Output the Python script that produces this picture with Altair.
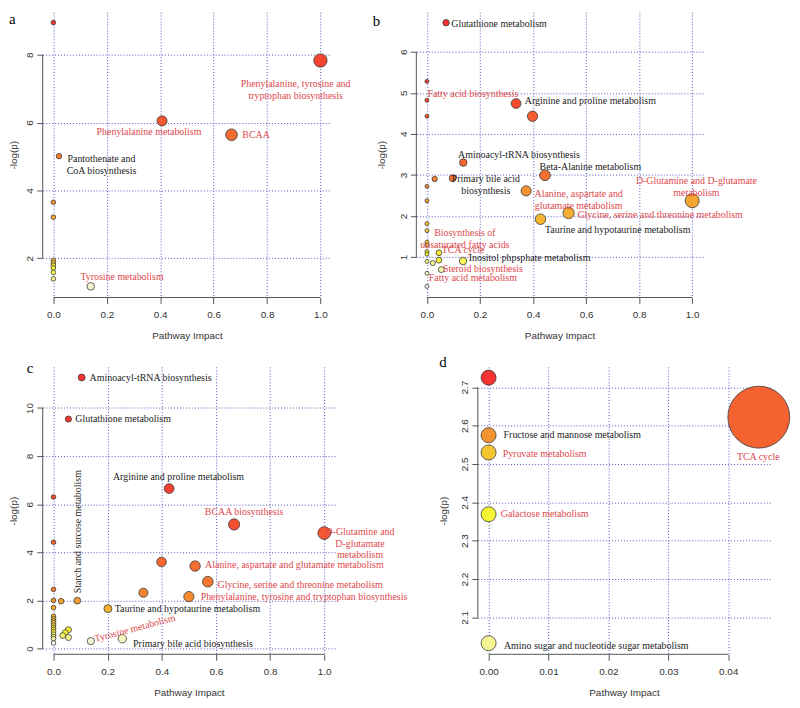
import colorsys
import altair as alt
import pandas as pd

# ---------------- panel a ----------------
a_impact = [0.0, 1.0, 0.407, 0.667, 0.021, 0.0, 0.0, 0.0, 0.0, 0.0, 0.0, 0.0, 0.0, 0.14]
a_logp = [8.95, 7.83, 6.05, 5.64, 5.01, 3.65, 3.21, 1.93, 1.86, 1.79, 1.71, 1.58, 1.39, 1.17]
a_lab_text = ["Phenylalanine, tyrosine and\ntryptophan biosynthesis", "Phenylalanine metabolism",
              "BCAA", "Pantothenate and\nCoA biosynthesis", "Tyrosine metabolism"]
a_lab_x = [0.907, 0.358, 0.759, 0.180, 0.257]
a_lab_y = [7.14, 5.72, 5.62, 4.92, 1.43]
a_lab_kind = ["sig", "sig", "sig", "other", "sig"]
a_xticks = [0.0, 0.2, 0.4, 0.6, 0.8, 1.0]
a_yticks = [2, 4, 6, 8]

# ---------------- panel b ----------------
b_impact = [0.072, 0.0, 0.0, 0.0, 0.336, 0.398, 0.137, 0.029, 0.097, 0.445, 0.0, 0.374, 0.0, 1.0,
            0.534, 0.428, 0.0, 0.0, 0.0, 0.0, 0.0, 0.045, 0.0, 0.0, 0.022, 0.045, 0.136, 0.054, 0.0, 0.0]
b_logp = [6.71, 5.28, 4.82, 4.43, 4.74, 4.43, 3.30, 2.90, 2.92, 2.99, 2.72, 2.61, 2.37, 2.37,
          2.07, 1.92, 1.81, 1.64, 1.36, 1.29, 1.13, 1.10, 1.07, 0.89, 0.85, 0.92, 0.90, 0.69, 0.60, 0.28]
b_lab_text = ["Glutathione metabolism", "Fatty acid biosynthesis", "Arginine and proline metabolism",
              "Aminoacyl-tRNA biosynthesis", "Primary bile acid\nbiosynthesis", "Beta-Alanine metabolism",
              "D-Glutamine and D-glutamate\nmetabolism", "Alanine, aspartate and\nglutamate metabolism",
              "Glycine, serine and threonine metabolism", "Taurine and hypotaurine metabolism",
              "Biosynthesis of\nunsaturated fatty acids", "TCA cycle", "Inositol phpsphate metabolism",
              "Steroid biosynthesis", "Fatty acid metabolism"]
b_lab_x = [0.2715, 0.173, 0.616, 0.347, 0.222, 0.616, 1.016, 0.572, 0.879, 0.719, 0.143, 0.136, 0.387, 0.211, 0.173]
b_lab_y = [6.67, 4.96, 4.81, 3.48, 2.89, 3.20, 2.84, 2.53, 2.02, 1.65, 1.58, 1.17, 0.97, 0.70, 0.48]
b_lab_kind = ["other", "sig", "other", "other", "other", "other", "sig", "sig", "sig", "other",
              "sig", "sig", "other", "sig", "sig"]
b_xticks = [0.0, 0.2, 0.4, 0.6, 0.8, 1.0]
b_yticks = [1, 2, 3, 4, 5, 6]

# ---------------- panel c ----------------
c_impact = [0.104, 0.055, 0.427, 0.0, 0.0, 0.667, 1.0, 0.399, 0.523, 0.57, 0.332, 0.5, 0.0, 0.0,
            0.028, 0.088, 0.201, 0.0,
            0.0, 0.0, 0.0, 0.0, 0.0, 0.0, 0.0, 0.0, 0.0, 0.0, 0.0, 0.0,
            0.055, 0.043, 0.034, 0.055, 0.138, 0.254]
c_logp = [11.27, 9.54, 6.65, 6.30, 4.42, 5.16, 4.80, 3.60, 3.43, 2.78, 2.32, 2.16, 2.46, 2.00,
          1.97, 1.99, 1.66, 1.70,
          1.34, 1.24, 1.15, 1.07, 0.97, 0.88, 0.80, 0.70, 0.60, 0.50, 0.41, 0.23,
          0.78, 0.66, 0.54, 0.46, 0.31, 0.41]
c_lab_text = ["Aminoacyl-tRNA biosynthesis", "Glutathione metabolism", "Arginine and proline metabolism",
              "BCAA biosynthesis", "D-Glutamine and\nD-glutamate\nmetabolism",
              "Alanine, aspartate and glutamate metabolism", "Glycine, serine and threonine metabolism",
              "Phenylalanine, tyrosine and tryptophan biosynthesis", "Taurine and hypotaurine metabolism",
              "Primary bile acid biosynthesis"]
c_lab_x = [0.3585, 0.257, 0.4616, 0.7037, 1.132, 0.8896, 0.911, 0.925, 0.4945, 0.515]
c_lab_y = [11.26, 9.54, 7.14, 5.68, 4.86, 3.46, 2.65, 2.15, 1.66, 0.20]
c_lab_kind = ["other", "other", "other", "sig", "sig", "sig", "sig", "sig", "other", "other"]
c_vlab_text = ["Starch and surcose metabolism"]
c_vlab_x = [0.0915]
c_vlab_y = [4.86]
c_vlab_kind = ["other"]
c_slab_text = ["Tyrosine metabolism"]
c_slab_x = [0.301]
c_slab_y = [0.84]
c_slab_kind = ["sig"]
c_xticks = [0.0, 0.2, 0.4, 0.6, 0.8, 1.0]
c_yticks = [0, 2, 4, 6, 8, 10]

# ---------------- panel d ----------------
d_impact = [0.0, 0.0451, 0.0, 0.0, 0.0, 0.0]
d_logp = [2.725, 2.622, 2.575, 2.530, 2.369, 2.033]
d_lab_text = ["Fructose and mannose metabolism", "Pyruvate metabolism", "TCA cycle",
              "Galactose metabolism", "Amino sugar and nucleotide sugar metabolism"]
d_lab_x = [0.01396, 0.00935, 0.0450, 0.00935, 0.01796]
d_lab_y = [2.575, 2.525, 2.519, 2.369, 2.025]
d_lab_kind = ["other", "sig", "sig", "sig", "other"]
d_xticks = [0.0, 0.01, 0.02, 0.03, 0.04]
d_yticks = [2.1, 2.2, 2.3, 2.4, 2.5, 2.6, 2.7]

# ---------------- styles ----------------
RED = "#e0484b"
BLACK = "#1c1c1c"
GRID = "#5555c4"
AXIS_GRAY = "#555555"
TXT = "#333333"
SANS = "Liberation Sans"
SERIF = "Liberation Serif"


def heat_colors(n):
    """R's heat.colors(n), slightly muted."""
    j = n // 4
    i = n - j
    cols = []
    for k in range(i):
        h = (1 / 6) * k / (i - 1) if i > 1 else 0.0
        cols.append(colorsys.hsv_to_rgb(h, 1, 1))
    for k in range(j):
        s0, s1 = 1 - 1 / (2 * j), 1 / (2 * j)
        s = s0 + (s1 - s0) * k / (j - 1) if j > 1 else s0
        cols.append(colorsys.hsv_to_rgb(1 / 6, s, 1))
    out = []
    for r, g, b in cols:
        vals = [min(255, (0.8 * c * 255 + 51) * 0.96) for c in (r, g, b)]
        out.append("#%02x%02x%02x" % tuple(int(round(v)) for v in vals))
    return out


def label_df(text, xs, ys, kind):
    return pd.DataFrame({"text": text, "x": xs, "y": ys, "kind": kind})


def panel(impact, logp, labels, extras, xdom, ydom, xticks, yticks, xfmt, yfmt,
          size_dom, size_rng, width, height, ytitle_pad, tag, tag_x, tag_y):
    df = pd.DataFrame({"impact": impact, "logp": logp})
    df["rk"] = (df["logp"].rank(ascending=False, method="first") - 1).astype(int)
    n = len(df)
    xs = alt.Scale(domain=xdom, nice=False, zero=False)
    ys = alt.Scale(domain=ydom, nice=False, zero=False)
    xaxis = alt.Axis(values=xticks, format=xfmt, title="Pathway Impact", grid=True,
                     gridColor=GRID, gridDash=[1, 2], gridWidth=1, domain=False,
                     tickSize=6, tickColor=AXIS_GRAY, labelFont=SANS, labelFontSize=10,
                     labelColor=TXT, titleFont=SANS, titleFontSize=10, titleFontWeight="normal",
                     titleColor=TXT, labelPadding=6, titlePadding=11.5,
                     labelFlush=False, labelOverlap=False)
    yaxis = alt.Axis(values=yticks, format=yfmt, title="-log(p)", grid=True,
                     gridColor=GRID, gridDash=[1, 2], gridWidth=1, domain=False,
                     tickSize=6, tickColor=AXIS_GRAY, labelFont=SANS, labelFontSize=10,
                     labelColor=TXT, titleFont=SANS, titleFontSize=10, titleFontWeight="normal",
                     titleColor=TXT, labelAngle=270, labelPadding=2, titlePadding=ytitle_pad,
                     labelFlush=False, labelOverlap=False)

    pts = alt.Chart(df).mark_circle(opacity=1, stroke="#3a3a3a", strokeWidth=0.8).encode(
        x=alt.X("impact:Q", scale=xs, axis=xaxis),
        y=alt.Y("logp:Q", scale=ys, axis=yaxis),
        size=alt.Size("impact:Q", scale=alt.Scale(type="pow", exponent=0.75, domain=size_dom,
                                                  range=size_rng), legend=None),
        color=alt.Color("rk:O", scale=alt.Scale(domain=list(range(n)), range=heat_colors(n)),
                        legend=None),
    )

    # R-style axis lines spanning only from the first to the last tick
    yline = alt.Chart(pd.DataFrame({"lo": [yticks[0]], "hi": [yticks[-1]]})).mark_rule(
        color=AXIS_GRAY, strokeWidth=1).encode(
        x=alt.value(0), y=alt.Y("lo:Q", scale=ys, axis=yaxis), y2="hi:Q")
    xline = alt.Chart(pd.DataFrame({"lo": [xticks[0]], "hi": [xticks[-1]]})).mark_rule(
        color=AXIS_GRAY, strokeWidth=1).encode(
        y=alt.value(height), x=alt.X("lo:Q", scale=xs, axis=xaxis), x2="hi:Q")

    def text_layer(ldf, angle):
        return alt.Chart(ldf).mark_text(font=SERIF, fontSize=10, lineBreak="\n", lineHeight=12,
                                        align="center", baseline="middle", angle=angle).encode(
            x=alt.X("x:Q", scale=xs, axis=xaxis),
            y=alt.Y("y:Q", scale=ys, axis=yaxis),
            text="text:N",
            color=alt.Color("kind:N", scale=alt.Scale(domain=["sig", "other"], range=[RED, BLACK]),
                            legend=None),
        )

    layers = [pts, yline, xline, text_layer(labels, 0)]
    for ldf, ang in extras:
        layers.append(text_layer(ldf, ang))
    tagc = alt.Chart(pd.DataFrame({"tag": [tag]})).mark_text(
        font=SERIF, fontSize=15, align="left", baseline="top", color="black").encode(
        text="tag:N", x=alt.value(tag_x), y=alt.value(tag_y))
    layers.append(tagc)
    return alt.layer(*layers).resolve_scale(color="independent").properties(width=width, height=height)


pa = panel(a_impact, a_logp, label_df(a_lab_text, a_lab_x, a_lab_y, a_lab_kind), [],
           [-0.04, 1.04], [0.84, 9.26], a_xticks, a_yticks, ".1f", "d",
           [0, 1], [22, 180], 291, 288, 6, "a", -34, 0)
pb = panel(b_impact, b_logp, label_df(b_lab_text, b_lab_x, b_lab_y, b_lab_kind), [],
           [-0.04, 1.04], [0.01, 6.97], b_xticks, b_yticks, ".1f", "d",
           [0, 1], [16, 200], 289, 288, 12, "b", -44, 2)
pc = panel(c_impact, c_logp, label_df(c_lab_text, c_lab_x, c_lab_y, c_lab_kind),
           [(label_df(c_vlab_text, c_vlab_x, c_vlab_y, c_vlab_kind), 270),
            (label_df(c_slab_text, c_slab_x, c_slab_y, c_slab_kind), 345)],
           [-0.04, 1.04], [-0.24, 11.71], c_xticks, c_yticks, ".1f", "d",
           [0, 1], [22, 165], 295, 290, 6, "c", -16, -6)
pd_ = panel(d_impact, d_logp, label_df(d_lab_text, d_lab_x, d_lab_y, d_lab_kind), [],
            [-0.0018, 0.047], [2.004, 2.753], d_xticks, d_yticks, ".2f", ".1f",
            [0, 0.0451], [230, 3900], 295, 290, 12, "d", -39, -12)

row1 = alt.hconcat(pa, pb, spacing=86, bounds="flush").resolve_scale(size="independent", color="independent")
row2 = alt.hconcat(pc, pd_, spacing=144, bounds="flush").resolve_scale(size="independent", color="independent")
chart = alt.vconcat(row1, row2, spacing=13).resolve_scale(
    size="independent", color="independent").properties(
    padding=0, background="white").configure_view(stroke="transparent")

chart.save("out.html", embed_options={"renderer": "svg", "actions": False})
